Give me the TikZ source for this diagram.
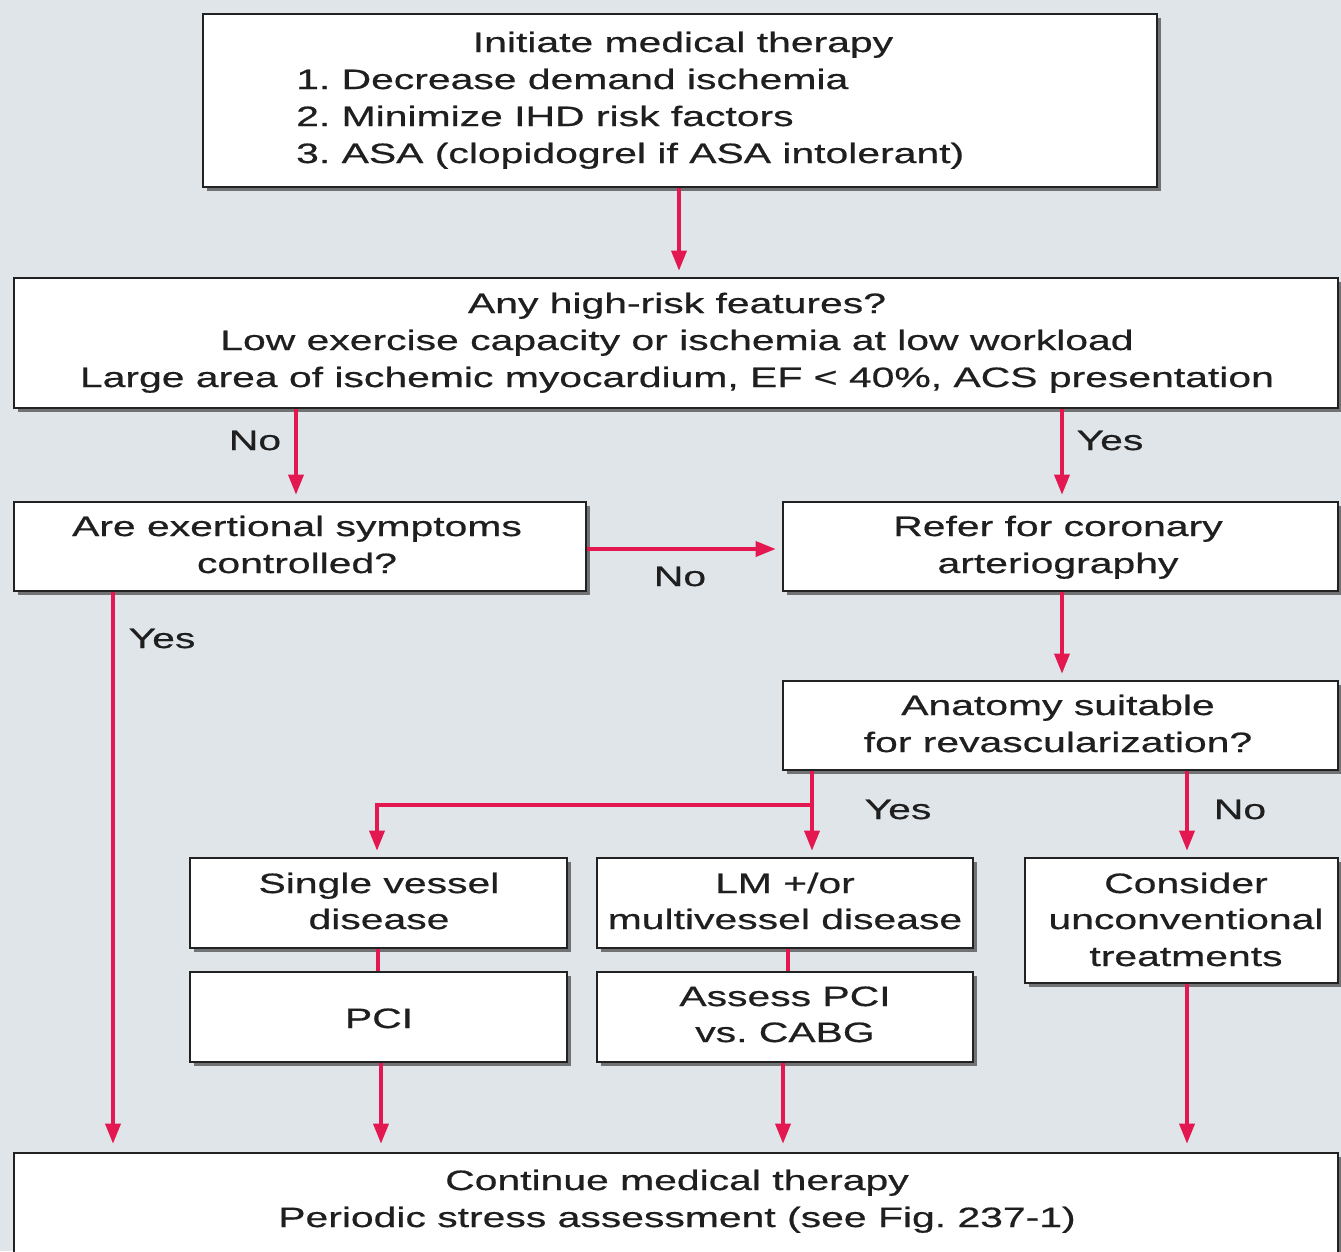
\documentclass[tikz,border=0pt]{standalone}
\usepackage{fontspec}
\setmainfont[FakeStretch=1.46,FakeBold=0.6]{Liberation Sans}
\usetikzlibrary{arrows.meta,shadows}
\definecolor{bgc}{RGB}{224,229,234}
\definecolor{arc}{RGB}{228,24,80}
\definecolor{bdc}{RGB}{34,34,34}
\begin{document}
\frenchspacing
\begin{tikzpicture}[x=1pt,y=-1pt,
  box/.style={draw=bdc, line width=2.6pt, fill=white, inner sep=0pt,
    drop shadow={shadow xshift=3.5pt, shadow yshift=-3.5pt, fill=black!70, opacity=0.75}},
  txt/.style={font=\fontsize{28}{37}\selectfont\frenchspacing, inner sep=0pt, anchor=base, text=black!88},
  lft/.style={txt, anchor=base west},
  con/.style={draw=arc, line width=3.5pt},
  arrow/.style={con, -{Triangle[length=20pt,width=15pt]}, shorten >=6pt},
]
\fill[bgc] (0,0) rectangle (1341,1251);
\useasboundingbox (0,0) rectangle (1341,1251);

% boxes
\node[box, minimum width=954pt, minimum height=173pt] (top) at (680,100.5) {};
\node[box, minimum width=1324pt, minimum height=130pt] (risk) at (676,343) {};
\node[box, minimum width=572pt, minimum height=89pt] (ex) at (300,546.5) {};
\node[box, minimum width=555pt, minimum height=89pt] (ref) at (1060.5,546.5) {};
\node[box, minimum width=555pt, minimum height=89pt] (anat) at (1060.5,725.5) {};
\node[box, minimum width=377pt, minimum height=90pt] (sv) at (378.5,903) {};
\node[box, minimum width=376pt, minimum height=90pt] (lm) at (785,903) {};
\node[box, minimum width=313pt, minimum height=125pt] (cons) at (1181.5,920.5) {};
\node[box, minimum width=377pt, minimum height=90pt] (pci) at (378.5,1017) {};
\node[box, minimum width=376pt, minimum height=90pt] (cabg) at (785,1017) {};
\node[box, minimum width=1324pt, minimum height=112pt] (cont) at (676,1209) {};

% texts
\node[txt] (t1) at (683,52) {Initiate medical therapy};
\node[lft] (t2) at (296,89) {1. Decrease demand ischemia};
\node[lft] (t3) at (296,126) {2. Minimize IHD risk factors};
\node[lft] (t4) at (296,163) {3. ASA (clopidogrel if ASA intolerant)};

\node[txt] (r1) at (677,313) {Any high-risk features?};
\node[txt] (r2) at (677,350) {Low exercise capacity or ischemia at low workload};
\node[txt] (r3) at (677,387) {Large area of ischemic myocardium, EF < 40\%, ACS presentation};

\node[txt] (e1) at (297,536) {Are exertional symptoms};
\node[txt] (e2) at (297,573) {controlled?};

\node[txt] (f1) at (1058,536) {Refer for coronary};
\node[txt] (f2) at (1058,573) {arteriography};

\node[txt] (a1) at (1058,715) {Anatomy suitable};
\node[txt] (a2) at (1058,752) {for revascularization?};

\node[txt] (s1) at (379,893) {Single vessel};
\node[txt] (s2) at (379,929) {disease};

\node[txt] (m1) at (785,893) {LM +/or};
\node[txt] (m2) at (785,929) {multivessel disease};

\node[txt] (c1) at (1186,893) {Consider};
\node[txt] (c2) at (1186,929) {unconventional};
\node[txt] (c3) at (1186,966) {treatments};

\node[txt] (p1) at (379,1028) {PCI};

\node[txt] (g1) at (785,1006) {Assess PCI};
\node[txt] (g2) at (785,1042) {vs. CABG};

\node[txt] (n1) at (677,1190) {Continue medical therapy};
\node[txt] (n2) at (677,1227) {Periodic stress assessment (see Fig. 237-1)};

% labels
\node[txt] (lno1) at (255,450) {No};
\node[txt] (lyes1) at (1110,450) {Yes};
\node[txt] (lno2) at (680,586) {No};
\node[txt] (lyes2) at (162,648) {Yes};
\node[txt] (lyes3) at (898,819) {Yes};
\node[txt] (lno3) at (1240,819) {No};

% connectors
\draw[arrow] (top.south -| 679,0) -- (risk.north -| 679,0);
\draw[arrow] (risk.south -| 296,0) -- (ex.north -| 296,0);
\draw[arrow] (risk.south -| 1062,0) -- (ref.north -| 1062,0);
\draw[arrow] (ex.east |- 0,549) -- (ref.west |- 0,549);
\draw[arrow, shorten >=8pt] (ex.south -| 113,0) -- (cont.north -| 113,0);
\draw[arrow] (ref.south -| 1062,0) -- (anat.north -| 1062,0);
\coordinate (br) at (812,805);
\draw[arrow] (anat.south -| br) -- (lm.north -| br);
\draw[arrow] (br) -- (br -| 377,0) -- (sv.north -| 377,0);
\draw[arrow] (anat.south -| 1187,0) -- (cons.north -| 1187,0);
\draw[con] (sv.south -| 378,0) -- (pci.north -| 378,0);
\draw[con] (lm.south -| 788,0) -- (cabg.north -| 788,0);
\draw[arrow, shorten >=8pt] (pci.south -| 381,0) -- (cont.north -| 381,0);
\draw[arrow, shorten >=8pt] (cabg.south -| 783,0) -- (cont.north -| 783,0);
\draw[arrow, shorten >=8pt] (cons.south -| 1187,0) -- (cont.north -| 1187,0);
\end{tikzpicture}
\end{document}
